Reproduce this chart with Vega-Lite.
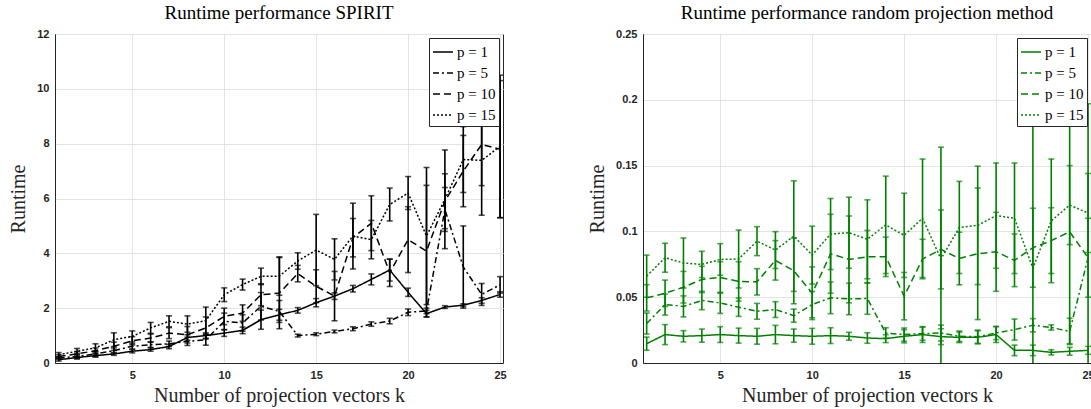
{
 "$schema": "https://vega.github.io/schema/vega-lite/v6.json",
 "padding": {"left": 8, "top": 3, "right": 2, "bottom": 2},
 "spacing": 80,
 "config": {
  "view": {"stroke": "#262626", "strokeWidth": 1},
  "font": "Liberation Serif",
  "title": {"font": "Liberation Serif", "fontSize": 19, "fontWeight": "normal", "color": "black", "offset": 5},
  "axis": {"labelFont": "Liberation Sans", "labelFontWeight": "bold", "labelFontSize": 11, "labelColor": "#262626", "titleFont": "Liberation Serif", "titleFontWeight": "normal", "titleFontSize": 20, "titleColor": "#262626", "gridColor": "#e3e3e3", "domainColor": "#262626", "ticks": false, "labelPadding": 6},
  "axisY": {"titlePadding": 8},
  "axisX": {"titlePadding": 5},
  "legend": {"orient": "top-right", "offset": 4, "strokeColor": "#262626", "fillColor": "white", "padding": 3, "labelFont": "Liberation Serif", "labelFontSize": 15, "labelColor": "black", "symbolType": "stroke", "symbolStrokeWidth": 1.5, "symbolSize": 400, "rowPadding": 2, "labelOffset": 3}
 },
 "datasets": {
  "spirit": [
   {"k":1,"p":"p = 1","y":0.12,"lo":0.07,"hi":0.17},{"k":2,"p":"p = 1","y":0.2,"lo":0.15,"hi":0.25},{"k":3,"p":"p = 1","y":0.27,"lo":0.22,"hi":0.32},{"k":4,"p":"p = 1","y":0.33,"lo":0.28,"hi":0.38},{"k":5,"p":"p = 1","y":0.43,"lo":0.37,"hi":0.49},{"k":6,"p":"p = 1","y":0.49,"lo":0.43,"hi":0.55},{"k":7,"p":"p = 1","y":0.6,"lo":0.52,"hi":0.68},{"k":8,"p":"p = 1","y":0.93,"lo":0.83,"hi":1.03},{"k":9,"p":"p = 1","y":1.0,"lo":0.9,"hi":1.1},{"k":10,"p":"p = 1","y":1.09,"lo":0.97,"hi":1.21},{"k":11,"p":"p = 1","y":1.19,"lo":1.07,"hi":1.31},{"k":12,"p":"p = 1","y":1.58,"lo":1.23,"hi":1.93},{"k":13,"p":"p = 1","y":1.76,"lo":1.56,"hi":1.96},{"k":14,"p":"p = 1","y":1.92,"lo":1.82,"hi":2.02},{"k":15,"p":"p = 1","y":2.2,"lo":2.05,"hi":2.35},{"k":16,"p":"p = 1","y":2.44,"lo":2.32,"hi":2.56},{"k":17,"p":"p = 1","y":2.71,"lo":2.59,"hi":2.83},{"k":18,"p":"p = 1","y":3.05,"lo":2.85,"hi":3.25},{"k":19,"p":"p = 1","y":3.39,"lo":2.99,"hi":3.79},{"k":20,"p":"p = 1","y":2.58,"lo":2.43,"hi":2.73},{"k":21,"p":"p = 1","y":1.8,"lo":1.68,"hi":1.92},{"k":22,"p":"p = 1","y":2.04,"lo":1.99,"hi":2.09},{"k":23,"p":"p = 1","y":2.11,"lo":2.06,"hi":2.16},{"k":24,"p":"p = 1","y":2.28,"lo":2.18,"hi":2.38},{"k":25,"p":"p = 1","y":2.5,"lo":2.4,"hi":2.6},
   {"k":1,"p":"p = 5","y":0.18,"lo":0.13,"hi":0.23},{"k":2,"p":"p = 5","y":0.24,"lo":0.16,"hi":0.32},{"k":3,"p":"p = 5","y":0.33,"lo":0.23,"hi":0.43},{"k":4,"p":"p = 5","y":0.45,"lo":0.35,"hi":0.55},{"k":5,"p":"p = 5","y":0.61,"lo":0.51,"hi":0.71},{"k":6,"p":"p = 5","y":0.67,"lo":0.57,"hi":0.77},{"k":7,"p":"p = 5","y":0.7,"lo":0.6,"hi":0.8},{"k":8,"p":"p = 5","y":0.79,"lo":0.64,"hi":0.94},{"k":9,"p":"p = 5","y":0.85,"lo":0.65,"hi":1.05},{"k":10,"p":"p = 5","y":1.52,"lo":1.22,"hi":1.82},{"k":11,"p":"p = 5","y":1.46,"lo":1.16,"hi":1.76},{"k":12,"p":"p = 5","y":2.07,"lo":1.57,"hi":2.57},{"k":13,"p":"p = 5","y":1.88,"lo":1.48,"hi":2.28},{"k":14,"p":"p = 5","y":1.0,"lo":0.95,"hi":1.05},{"k":15,"p":"p = 5","y":1.05,"lo":1.0,"hi":1.1},{"k":16,"p":"p = 5","y":1.15,"lo":1.1,"hi":1.2},{"k":17,"p":"p = 5","y":1.25,"lo":1.18,"hi":1.32},{"k":18,"p":"p = 5","y":1.42,"lo":1.34,"hi":1.5},{"k":19,"p":"p = 5","y":1.53,"lo":1.43,"hi":1.63},{"k":20,"p":"p = 5","y":1.85,"lo":1.73,"hi":1.97},{"k":21,"p":"p = 5","y":1.9,"lo":1.8,"hi":2.0},{"k":22,"p":"p = 5","y":5.6,"lo":4.8,"hi":6.4},{"k":23,"p":"p = 5","y":3.5,"lo":2.0,"hi":5.0},{"k":24,"p":"p = 5","y":2.5,"lo":2.1,"hi":2.9},{"k":25,"p":"p = 5","y":2.85,"lo":2.55,"hi":3.15},
   {"k":1,"p":"p = 10","y":0.24,"lo":0.18,"hi":0.3},{"k":2,"p":"p = 10","y":0.33,"lo":0.25,"hi":0.41},{"k":3,"p":"p = 10","y":0.45,"lo":0.35,"hi":0.55},{"k":4,"p":"p = 10","y":0.61,"lo":0.46,"hi":0.76},{"k":5,"p":"p = 10","y":0.81,"lo":0.66,"hi":0.96},{"k":6,"p":"p = 10","y":0.91,"lo":0.76,"hi":1.06},{"k":7,"p":"p = 10","y":1.09,"lo":0.89,"hi":1.29},{"k":8,"p":"p = 10","y":1.03,"lo":0.73,"hi":1.33},{"k":9,"p":"p = 10","y":1.28,"lo":0.88,"hi":1.68},{"k":10,"p":"p = 10","y":1.7,"lo":1.4,"hi":2.0},{"k":11,"p":"p = 10","y":1.82,"lo":1.52,"hi":2.12},{"k":12,"p":"p = 10","y":2.49,"lo":2.09,"hi":2.89},{"k":13,"p":"p = 10","y":2.55,"lo":1.25,"hi":3.85},{"k":14,"p":"p = 10","y":3.26,"lo":2.96,"hi":3.56},{"k":15,"p":"p = 10","y":2.8,"lo":2.2,"hi":3.4},{"k":16,"p":"p = 10","y":2.44,"lo":1.54,"hi":3.34},{"k":17,"p":"p = 10","y":4.57,"lo":3.87,"hi":5.27},{"k":18,"p":"p = 10","y":5.1,"lo":4.1,"hi":6.1},{"k":19,"p":"p = 10","y":3.29,"lo":2.79,"hi":3.79},{"k":20,"p":"p = 10","y":4.5,"lo":3.3,"hi":5.7},{"k":21,"p":"p = 10","y":4.08,"lo":1.68,"hi":6.48},{"k":22,"p":"p = 10","y":5.9,"lo":4.9,"hi":6.9},{"k":23,"p":"p = 10","y":7.0,"lo":5.7,"hi":8.3},{"k":24,"p":"p = 10","y":7.97,"lo":6.47,"hi":9.47},{"k":25,"p":"p = 10","y":7.8,"lo":5.3,"hi":10.3},
   {"k":1,"p":"p = 15","y":0.3,"lo":0.22,"hi":0.38},{"k":2,"p":"p = 15","y":0.43,"lo":0.33,"hi":0.53},{"k":3,"p":"p = 15","y":0.55,"lo":0.4,"hi":0.7},{"k":4,"p":"p = 15","y":0.85,"lo":0.6,"hi":1.1},{"k":5,"p":"p = 15","y":0.97,"lo":0.77,"hi":1.17},{"k":6,"p":"p = 15","y":1.28,"lo":1.08,"hi":1.48},{"k":7,"p":"p = 15","y":1.52,"lo":1.32,"hi":1.72},{"k":8,"p":"p = 15","y":1.42,"lo":1.12,"hi":1.72},{"k":9,"p":"p = 15","y":1.54,"lo":1.04,"hi":2.04},{"k":10,"p":"p = 15","y":2.49,"lo":2.24,"hi":2.74},{"k":11,"p":"p = 15","y":2.86,"lo":2.66,"hi":3.06},{"k":12,"p":"p = 15","y":3.16,"lo":2.86,"hi":3.46},{"k":13,"p":"p = 15","y":3.17,"lo":2.47,"hi":3.87},{"k":14,"p":"p = 15","y":3.72,"lo":3.42,"hi":4.02},{"k":15,"p":"p = 15","y":4.12,"lo":2.82,"hi":5.42},{"k":16,"p":"p = 15","y":3.78,"lo":3.03,"hi":4.53},{"k":17,"p":"p = 15","y":4.63,"lo":3.43,"hi":5.83},{"k":18,"p":"p = 15","y":4.5,"lo":3.8,"hi":5.2},{"k":19,"p":"p = 15","y":5.78,"lo":5.18,"hi":6.38},{"k":20,"p":"p = 15","y":6.2,"lo":5.6,"hi":6.8},{"k":21,"p":"p = 15","y":4.63,"lo":2.13,"hi":7.13},{"k":22,"p":"p = 15","y":5.97,"lo":4.17,"hi":7.77},{"k":23,"p":"p = 15","y":7.42,"lo":6.22,"hi":8.62},{"k":24,"p":"p = 15","y":7.39,"lo":5.39,"hi":9.39},{"k":25,"p":"p = 15","y":7.9,"lo":5.3,"hi":10.5}
  ],
  "rp": [
   {"k":1,"p":"p = 1","y":0.0147,"lo":0.0097,"hi":0.0197},{"k":2,"p":"p = 1","y":0.0216,"lo":0.014,"hi":0.0292},{"k":3,"p":"p = 1","y":0.0203,"lo":0.016,"hi":0.0246},{"k":4,"p":"p = 1","y":0.0208,"lo":0.0158,"hi":0.0258},{"k":5,"p":"p = 1","y":0.0216,"lo":0.0156,"hi":0.0276},{"k":6,"p":"p = 1","y":0.0208,"lo":0.0151,"hi":0.0265},{"k":7,"p":"p = 1","y":0.0203,"lo":0.0143,"hi":0.0263},{"k":8,"p":"p = 1","y":0.0216,"lo":0.0146,"hi":0.0286},{"k":9,"p":"p = 1","y":0.0208,"lo":0.0158,"hi":0.0258},{"k":10,"p":"p = 1","y":0.0203,"lo":0.0143,"hi":0.0263},{"k":11,"p":"p = 1","y":0.0208,"lo":0.0148,"hi":0.0268},{"k":12,"p":"p = 1","y":0.0203,"lo":0.0173,"hi":0.0233},{"k":13,"p":"p = 1","y":0.019,"lo":0.015,"hi":0.023},{"k":14,"p":"p = 1","y":0.0185,"lo":0.0155,"hi":0.0215},{"k":15,"p":"p = 1","y":0.0203,"lo":0.0153,"hi":0.0253},{"k":16,"p":"p = 1","y":0.0216,"lo":0.0156,"hi":0.0276},{"k":17,"p":"p = 1","y":0.02,"lo":0.014,"hi":0.026},{"k":18,"p":"p = 1","y":0.0195,"lo":0.0155,"hi":0.0235},{"k":19,"p":"p = 1","y":0.0195,"lo":0.0145,"hi":0.0245},{"k":20,"p":"p = 1","y":0.0216,"lo":0.0156,"hi":0.0276},{"k":21,"p":"p = 1","y":0.0096,"lo":0.0056,"hi":0.0136},{"k":22,"p":"p = 1","y":0.0096,"lo":0.0056,"hi":0.0136},{"k":23,"p":"p = 1","y":0.0081,"lo":0.0061,"hi":0.0101},{"k":24,"p":"p = 1","y":0.0089,"lo":0.0059,"hi":0.0119},{"k":25,"p":"p = 1","y":0.0096,"lo":0.0066,"hi":0.0126},
   {"k":1,"p":"p = 5","y":0.03,"lo":0.022,"hi":0.038},{"k":2,"p":"p = 5","y":0.0444,"lo":0.0364,"hi":0.0524},{"k":3,"p":"p = 5","y":0.043,"lo":0.035,"hi":0.051},{"k":4,"p":"p = 5","y":0.0475,"lo":0.0405,"hi":0.0545},{"k":5,"p":"p = 5","y":0.0457,"lo":0.0377,"hi":0.0537},{"k":6,"p":"p = 5","y":0.0424,"lo":0.0354,"hi":0.0494},{"k":7,"p":"p = 5","y":0.0393,"lo":0.0333,"hi":0.0453},{"k":8,"p":"p = 5","y":0.0406,"lo":0.0346,"hi":0.0466},{"k":9,"p":"p = 5","y":0.036,"lo":0.031,"hi":0.041},{"k":10,"p":"p = 5","y":0.0444,"lo":0.0344,"hi":0.0544},{"k":11,"p":"p = 5","y":0.0495,"lo":0.0375,"hi":0.0615},{"k":12,"p":"p = 5","y":0.0487,"lo":0.0367,"hi":0.0607},{"k":13,"p":"p = 5","y":0.049,"lo":0.037,"hi":0.061},{"k":14,"p":"p = 5","y":0.0228,"lo":0.0188,"hi":0.0268},{"k":15,"p":"p = 5","y":0.0216,"lo":0.0166,"hi":0.0266},{"k":16,"p":"p = 5","y":0.0223,"lo":0.0173,"hi":0.0273},{"k":17,"p":"p = 5","y":0.0228,"lo":0.0168,"hi":0.0288},{"k":18,"p":"p = 5","y":0.0203,"lo":0.0163,"hi":0.0243},{"k":19,"p":"p = 5","y":0.02,"lo":0.015,"hi":0.025},{"k":20,"p":"p = 5","y":0.0228,"lo":0.0178,"hi":0.0278},{"k":21,"p":"p = 5","y":0.0254,"lo":0.0174,"hi":0.0334},{"k":22,"p":"p = 5","y":0.0287,"lo":0.0237,"hi":0.0337},{"k":23,"p":"p = 5","y":0.027,"lo":0.025,"hi":0.029},{"k":24,"p":"p = 5","y":0.024,"lo":0.014,"hi":0.034},{"k":25,"p":"p = 5","y":0.08,"lo":0.05,"hi":0.11},
   {"k":1,"p":"p = 10","y":0.0495,"lo":0.0395,"hi":0.0595},{"k":2,"p":"p = 10","y":0.053,"lo":0.043,"hi":0.063},{"k":3,"p":"p = 10","y":0.0576,"lo":0.0456,"hi":0.0696},{"k":4,"p":"p = 10","y":0.0635,"lo":0.0535,"hi":0.0735},{"k":5,"p":"p = 10","y":0.065,"lo":0.053,"hi":0.077},{"k":6,"p":"p = 10","y":0.062,"lo":0.047,"hi":0.077},{"k":7,"p":"p = 10","y":0.0617,"lo":0.0517,"hi":0.0717},{"k":8,"p":"p = 10","y":0.078,"lo":0.063,"hi":0.093},{"k":9,"p":"p = 10","y":0.07,"lo":0.045,"hi":0.095},{"k":10,"p":"p = 10","y":0.053,"lo":0.033,"hi":0.073},{"k":11,"p":"p = 10","y":0.083,"lo":0.053,"hi":0.113},{"k":12,"p":"p = 10","y":0.0787,"lo":0.0457,"hi":0.1117},{"k":13,"p":"p = 10","y":0.0807,"lo":0.0607,"hi":0.1007},{"k":14,"p":"p = 10","y":0.0807,"lo":0.0657,"hi":0.0957},{"k":15,"p":"p = 10","y":0.0508,"lo":0.0328,"hi":0.0688},{"k":16,"p":"p = 10","y":0.079,"lo":0.064,"hi":0.094},{"k":17,"p":"p = 10","y":0.0863,"lo":0.0563,"hi":0.1163},{"k":18,"p":"p = 10","y":0.0794,"lo":0.0594,"hi":0.0994},{"k":19,"p":"p = 10","y":0.083,"lo":0.033,"hi":0.133},{"k":20,"p":"p = 10","y":0.0845,"lo":0.0545,"hi":0.1145},{"k":21,"p":"p = 10","y":0.078,"lo":0.058,"hi":0.098},{"k":22,"p":"p = 10","y":0.0876,"lo":0.0576,"hi":0.1176},{"k":23,"p":"p = 10","y":0.093,"lo":0.068,"hi":0.118},{"k":24,"p":"p = 10","y":0.0997,"lo":0.0147,"hi":0.1847},{"k":25,"p":"p = 10","y":0.08,"lo":-0.037,"hi":0.197},
   {"k":1,"p":"p = 15","y":0.066,"lo":0.05,"hi":0.082},{"k":2,"p":"p = 15","y":0.08,"lo":0.069,"hi":0.091},{"k":3,"p":"p = 15","y":0.076,"lo":0.057,"hi":0.095},{"k":4,"p":"p = 15","y":0.0749,"lo":0.0649,"hi":0.0849},{"k":5,"p":"p = 15","y":0.0787,"lo":0.0667,"hi":0.0907},{"k":6,"p":"p = 15","y":0.079,"lo":0.057,"hi":0.101},{"k":7,"p":"p = 15","y":0.0926,"lo":0.0816,"hi":0.1036},{"k":8,"p":"p = 15","y":0.0858,"lo":0.0718,"hi":0.0998},{"k":9,"p":"p = 15","y":0.0964,"lo":0.0544,"hi":0.1384},{"k":10,"p":"p = 15","y":0.082,"lo":0.06,"hi":0.104},{"k":11,"p":"p = 15","y":0.098,"lo":0.071,"hi":0.125},{"k":12,"p":"p = 15","y":0.099,"lo":0.072,"hi":0.126},{"k":13,"p":"p = 15","y":0.094,"lo":0.064,"hi":0.124},{"k":14,"p":"p = 15","y":0.105,"lo":0.068,"hi":0.142},{"k":15,"p":"p = 15","y":0.097,"lo":0.065,"hi":0.129},{"k":16,"p":"p = 15","y":0.11,"lo":0.065,"hi":0.155},{"k":17,"p":"p = 15","y":0.079,"lo":-0.006,"hi":0.164},{"k":18,"p":"p = 15","y":0.103,"lo":0.068,"hi":0.138},{"k":19,"p":"p = 15","y":0.1046,"lo":0.0596,"hi":0.1496},{"k":20,"p":"p = 15","y":0.112,"lo":0.072,"hi":0.152},{"k":21,"p":"p = 15","y":0.11,"lo":0.068,"hi":0.152},{"k":22,"p":"p = 15","y":0.072,"lo":-0.058,"hi":0.202},{"k":23,"p":"p = 15","y":0.108,"lo":0.061,"hi":0.155},{"k":24,"p":"p = 15","y":0.12,"lo":0.09,"hi":0.15},{"k":25,"p":"p = 15","y":0.114,"lo":0.084,"hi":0.144}
  ]
 },
 "hconcat": [
  {
   "width": 448, "height": 329,
   "title": "Runtime performance SPIRIT",
   "data": {"name": "spirit"},
   "encoding": {
    "x": {"field": "k", "type": "quantitative", "scale": {"domain": [0.8, 25.16], "nice": false, "zero": false}, "axis": {"values": [5, 10, 15, 20, 25], "title": "Number of projection vectors k"}}
   },
   "layer": [
    {"mark": {"type": "line", "color": "black", "strokeWidth": 1.5, "clip": true},
     "encoding": {
      "y": {"field": "y", "type": "quantitative", "scale": {"domain": [0, 12], "nice": false}, "axis": {"values": [0, 2, 4, 6, 8, 10, 12], "title": "Runtime"}},
      "strokeDash": {"field": "p", "type": "nominal", "scale": {"domain": ["p = 1", "p = 5", "p = 10", "p = 15"], "range": [[1, 0], [6, 3, 2, 3], [7, 4], [2, 2]]}, "legend": {"title": null, "symbolStrokeColor": "black"}}
     }},
    {"mark": {"type": "rule", "color": "black", "strokeWidth": 1.6, "clip": true},
     "encoding": {"y": {"field": "lo", "type": "quantitative", "axis": {"values": [0, 2, 4, 6, 8, 10, 12], "title": "Runtime"}}, "y2": {"field": "hi"}}},
    {"mark": {"type": "tick", "orient": "horizontal", "color": "black", "size": 6, "thickness": 1.6, "clip": true},
     "encoding": {"y": {"field": "lo", "type": "quantitative", "axis": {"values": [0, 2, 4, 6, 8, 10, 12], "title": "Runtime"}}}},
    {"mark": {"type": "tick", "orient": "horizontal", "color": "black", "size": 6, "thickness": 1.6, "clip": true},
     "encoding": {"y": {"field": "hi", "type": "quantitative", "axis": {"values": [0, 2, 4, 6, 8, 10, 12], "title": "Runtime"}}}}
   ]
  },
  {
   "width": 448, "height": 329,
   "title": "Runtime performance random projection method",
   "data": {"name": "rp"},
   "encoding": {
    "x": {"field": "k", "type": "quantitative", "scale": {"domain": [0.8, 25.16], "nice": false, "zero": false}, "axis": {"values": [5, 10, 15, 20, 25], "title": "Number of projection vectors k"}}
   },
   "layer": [
    {"mark": {"type": "line", "color": "#008000", "strokeWidth": 1.5, "clip": true},
     "encoding": {
      "y": {"field": "y", "type": "quantitative", "scale": {"domain": [0, 0.25], "nice": false}, "axis": {"values": [0, 0.05, 0.1, 0.15, 0.2, 0.25], "format": "~g", "title": "Runtime"}},
      "strokeDash": {"field": "p", "type": "nominal", "scale": {"domain": ["p = 1", "p = 5", "p = 10", "p = 15"], "range": [[1, 0], [6, 3, 2, 3], [7, 4], [2, 2]]}, "legend": {"title": null, "symbolStrokeColor": "#008000"}}
     }},
    {"mark": {"type": "rule", "color": "#008000", "strokeWidth": 1.6, "clip": true},
     "encoding": {"y": {"field": "lo", "type": "quantitative", "axis": {"values": [0, 0.05, 0.1, 0.15, 0.2, 0.25], "format": "~g", "title": "Runtime"}}, "y2": {"field": "hi"}}},
    {"mark": {"type": "tick", "orient": "horizontal", "color": "#008000", "size": 6, "thickness": 1.6, "clip": true},
     "encoding": {"y": {"field": "lo", "type": "quantitative", "axis": {"values": [0, 0.05, 0.1, 0.15, 0.2, 0.25], "format": "~g", "title": "Runtime"}}}},
    {"mark": {"type": "tick", "orient": "horizontal", "color": "#008000", "size": 6, "thickness": 1.6, "clip": true},
     "encoding": {"y": {"field": "hi", "type": "quantitative", "axis": {"values": [0, 0.05, 0.1, 0.15, 0.2, 0.25], "format": "~g", "title": "Runtime"}}}}
   ]
  }
 ],
 "resolve": {"scale": {"strokeDash": "independent"}, "legend": {"strokeDash": "independent"}}
}
